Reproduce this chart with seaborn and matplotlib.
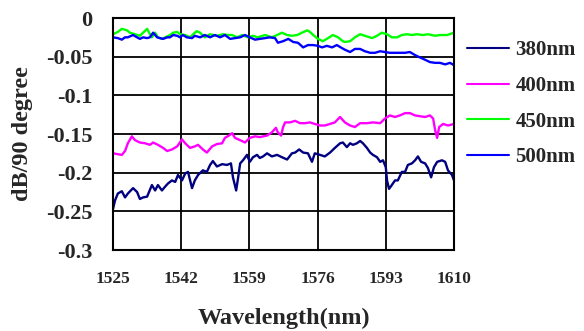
import numpy as np
import pandas as pd
import matplotlib
matplotlib.use("Agg")
import matplotlib.pyplot as plt
import seaborn as sns

# ---- data ----
wl_380 = [1525.0, 1525.5, 1526.2, 1527.2, 1528.0, 1528.7, 1530.0, 1531.0, 1531.7, 1532.5,
          1533.5, 1534.7, 1535.5, 1536.2, 1537.2, 1538.0, 1538.7, 1539.7, 1540.5, 1541.2,
          1542.2, 1543.0, 1543.7, 1544.7, 1545.4, 1546.2, 1547.4, 1548.4, 1549.2, 1549.9,
          1550.9, 1552.2, 1553.4, 1554.4, 1554.9, 1555.7, 1556.2, 1556.7, 1557.4, 1558.4,
          1559.1, 1559.9, 1560.9, 1561.6, 1562.4, 1563.4, 1564.6, 1565.9, 1567.1, 1568.4,
          1569.6, 1570.4, 1571.4, 1572.4, 1573.6, 1574.6, 1575.3, 1576.6, 1577.8, 1579.1,
          1580.3, 1581.6, 1582.3, 1583.3, 1584.1, 1584.8, 1585.8, 1586.6, 1587.3, 1588.3,
          1589.1, 1589.8, 1590.8, 1591.6, 1592.3, 1593.0, 1593.3, 1593.8, 1594.5, 1595.3,
          1596.0, 1597.0, 1597.8, 1598.5, 1599.5, 1600.3, 1601.0, 1601.8, 1602.8, 1603.5,
          1604.3, 1605.0, 1605.8, 1607.0, 1607.8, 1608.5, 1609.5, 1610.0]
val_380 = [-0.247, -0.236, -0.227, -0.224, -0.232, -0.227, -0.220, -0.225, -0.234, -0.232,
           -0.231, -0.216, -0.223, -0.216, -0.223, -0.218, -0.214, -0.210, -0.212, -0.203,
           -0.210, -0.201, -0.199, -0.220, -0.210, -0.203, -0.197, -0.199, -0.190, -0.185,
           -0.192, -0.189, -0.190, -0.188, -0.206, -0.223, -0.206, -0.188, -0.184, -0.177,
           -0.186, -0.180, -0.177, -0.181, -0.179, -0.175, -0.179, -0.177, -0.180, -0.183,
           -0.175, -0.174, -0.170, -0.174, -0.175, -0.186, -0.175, -0.177, -0.179, -0.174,
           -0.168, -0.162, -0.161, -0.167, -0.162, -0.164, -0.162, -0.159, -0.162, -0.168,
           -0.174, -0.177, -0.180, -0.186, -0.184, -0.193, -0.210, -0.221, -0.216, -0.210,
           -0.210, -0.199, -0.199, -0.190, -0.188, -0.184, -0.179, -0.186, -0.188, -0.194,
           -0.206, -0.193, -0.186, -0.184, -0.186, -0.197, -0.203, -0.210]

wl_400 = [1525.0, 1527.2, 1528.0, 1528.7, 1529.7, 1530.5, 1531.7, 1533.0, 1534.2, 1535.0,
          1536.2, 1537.5, 1538.5, 1539.7, 1541.0, 1542.2, 1543.0, 1544.2, 1545.4, 1546.2,
          1547.4, 1548.4, 1549.7, 1550.9, 1552.2, 1552.9, 1553.9, 1554.7, 1555.4, 1556.7,
          1557.9, 1559.1, 1560.4, 1561.6, 1563.4, 1564.6, 1565.6, 1566.1, 1566.9, 1567.4,
          1567.9, 1569.1, 1570.4, 1571.6, 1572.9, 1574.1, 1575.3, 1576.6, 1577.8, 1579.1,
          1580.3, 1581.6, 1582.8, 1584.1, 1585.3, 1586.6, 1588.3, 1589.8, 1591.6, 1592.8,
          1594.0, 1595.3, 1596.5, 1597.8, 1599.0, 1600.3, 1601.5, 1602.8, 1604.0, 1604.8,
          1605.3, 1605.8, 1606.3, 1607.3, 1608.5, 1610.0]
val_400 = [-0.175, -0.177, -0.172, -0.162, -0.153, -0.158, -0.161, -0.162, -0.164, -0.161,
           -0.164, -0.168, -0.172, -0.170, -0.166, -0.157, -0.162, -0.168, -0.166, -0.164,
           -0.170, -0.174, -0.166, -0.163, -0.162, -0.155, -0.152, -0.149, -0.155, -0.158,
           -0.161, -0.155, -0.153, -0.154, -0.152, -0.148, -0.142, -0.148, -0.152, -0.141,
           -0.135, -0.135, -0.133, -0.136, -0.136, -0.135, -0.137, -0.139, -0.139, -0.137,
           -0.135, -0.128, -0.135, -0.139, -0.141, -0.136, -0.136, -0.135, -0.136, -0.130,
           -0.126, -0.128, -0.126, -0.123, -0.123, -0.126, -0.127, -0.128, -0.126, -0.130,
           -0.145, -0.155, -0.141, -0.137, -0.139, -0.137]

wl_450 = [1525.0, 1526.2, 1527.2, 1528.5, 1529.2, 1530.5, 1531.7, 1532.5, 1533.5, 1534.0,
          1534.7, 1535.5, 1536.2, 1537.2, 1538.0, 1539.2, 1540.0, 1541.0, 1541.7, 1543.0,
          1544.2, 1545.4, 1545.9, 1546.7, 1547.9, 1549.2, 1550.9, 1552.4, 1553.7, 1554.7,
          1555.9, 1557.2, 1558.6, 1559.9, 1561.1, 1562.9, 1564.6, 1565.9, 1567.1, 1568.4,
          1569.6, 1570.9, 1572.1, 1573.4, 1574.1, 1574.9, 1576.1, 1577.3, 1578.6, 1579.8,
          1581.1, 1582.3, 1582.8, 1584.1, 1585.3, 1586.6, 1587.8, 1589.6, 1590.8, 1592.0,
          1593.3, 1594.5, 1595.8, 1597.0, 1598.3, 1599.5, 1600.8, 1602.3, 1603.5, 1605.3,
          1606.5, 1608.3, 1610.0]
val_450 = [-0.021, -0.018, -0.014, -0.016, -0.019, -0.021, -0.023, -0.019, -0.014, -0.019,
           -0.025, -0.019, -0.025, -0.027, -0.025, -0.022, -0.019, -0.018, -0.021, -0.022,
           -0.025, -0.019, -0.017, -0.019, -0.025, -0.021, -0.023, -0.021, -0.022, -0.022,
           -0.025, -0.022, -0.025, -0.023, -0.025, -0.022, -0.025, -0.022, -0.019, -0.022,
           -0.023, -0.022, -0.019, -0.016, -0.018, -0.022, -0.027, -0.030, -0.026, -0.022,
           -0.025, -0.030, -0.031, -0.030, -0.025, -0.021, -0.023, -0.026, -0.023, -0.019,
           -0.021, -0.025, -0.025, -0.022, -0.021, -0.022, -0.021, -0.022, -0.021, -0.023,
           -0.022, -0.022, -0.019]

wl_500 = [1525.0, 1526.2, 1527.2, 1528.0, 1528.7, 1530.0, 1531.0, 1531.7, 1532.5, 1533.5,
          1534.2, 1535.0, 1536.0, 1536.7, 1537.5, 1538.5, 1539.2, 1540.0, 1541.0, 1541.7,
          1542.4, 1543.4, 1544.7, 1545.4, 1546.7, 1547.9, 1549.2, 1550.4, 1551.7, 1552.9,
          1554.2, 1555.4, 1556.7, 1557.9, 1559.1, 1560.4, 1561.6, 1562.9, 1564.1, 1565.4,
          1566.1, 1567.4, 1568.7, 1569.9, 1571.1, 1572.4, 1573.6, 1574.9, 1576.1, 1577.1,
          1578.3, 1579.6, 1580.8, 1582.1, 1582.8, 1584.1, 1585.3, 1586.6, 1587.8, 1589.1,
          1590.3, 1591.6, 1592.8, 1594.0, 1595.3, 1596.5, 1597.8, 1599.0, 1600.3, 1601.5,
          1602.8, 1604.0, 1605.3, 1606.5, 1607.8, 1609.0, 1610.0]
val_500 = [-0.025, -0.026, -0.028, -0.025, -0.025, -0.022, -0.025, -0.027, -0.025, -0.026,
           -0.025, -0.019, -0.025, -0.026, -0.027, -0.025, -0.025, -0.022, -0.023, -0.025,
           -0.022, -0.025, -0.026, -0.023, -0.025, -0.022, -0.025, -0.022, -0.025, -0.022,
           -0.027, -0.026, -0.025, -0.022, -0.025, -0.028, -0.027, -0.026, -0.025, -0.026,
           -0.032, -0.030, -0.027, -0.031, -0.032, -0.038, -0.035, -0.035, -0.036, -0.038,
           -0.036, -0.038, -0.035, -0.039, -0.041, -0.044, -0.040, -0.040, -0.043, -0.045,
           -0.045, -0.043, -0.044, -0.045, -0.045, -0.045, -0.045, -0.044, -0.048, -0.051,
           -0.054, -0.057, -0.058, -0.058, -0.060, -0.058, -0.061]

series_names = ["380nm", "400nm", "450nm", "500nm"]
series_colors = ["#000080", "#FF00FF", "#00FF00", "#0000FF"]
x_ticks = [1525, 1542, 1559, 1576, 1593, 1610]
y_ticks = [0, -0.05, -0.1, -0.15, -0.2, -0.25, -0.3]
y_tick_labels = ["0", "-0.05", "-0.1", "-0.15", "-0.2", "-0.25", "-0.3"]

frames = []
for name, wl, val in zip(series_names,
                         [wl_380, wl_400, wl_450, wl_500],
                         [val_380, val_400, val_450, val_500]):
    frames.append(pd.DataFrame({"Wavelength": wl, "Loss": val, "Series": name}))
df = pd.concat(frames, ignore_index=True)

sns.set_style("white")
plt.rcParams["font.family"] = ["Liberation Serif", "DejaVu Serif"]
plt.rcParams["font.weight"] = "bold"

fig = plt.figure(figsize=(5.84, 3.31), dpi=100)
ax = fig.add_axes([113 / 584, 1 - 250 / 331, (454 - 113) / 584, (250 - 18) / 331])

sns.lineplot(data=df, x="Wavelength", y="Loss", hue="Series",
             hue_order=series_names, palette=dict(zip(series_names, series_colors)),
             linewidth=1.7, ax=ax, sort=False, estimator=None)

ax.set_xlim(1525, 1610)
ax.set_ylim(-0.3, 0)
ax.set_xticks(x_ticks)
ax.set_xticklabels([str(t) for t in x_ticks], fontsize=12.5, fontweight="bold")
ax.set_yticks(y_ticks)
ax.set_yticklabels(y_tick_labels, fontsize=16, fontweight="bold")
ax.tick_params(axis="x", length=0, pad=15)
ax.tick_params(axis="y", length=0, pad=15)
ax.grid(True, color="black", linewidth=1.3)
ax.set_axisbelow(True)
for s in ax.spines.values():
    s.set_color("black")
    s.set_linewidth(1.5)

ax.set_xlabel("Wavelength(nm)", fontsize=17.5, fontweight="bold", labelpad=15)
ax.set_ylabel("dB/90 degree", fontsize=17.5, fontweight="bold", labelpad=9)

leg = ax.legend(loc="upper left", bbox_to_anchor=(457 / 584, 1 - 30 / 331),
                bbox_transform=fig.transFigure, frameon=False,
                prop={"size": 15, "weight": "bold"}, handlelength=2.0,
                labelspacing=0.75, borderpad=0, handletextpad=0.3)
for line in leg.get_lines():
    line.set_linewidth(1.5)

fig.savefig("out.png", dpi=100)
